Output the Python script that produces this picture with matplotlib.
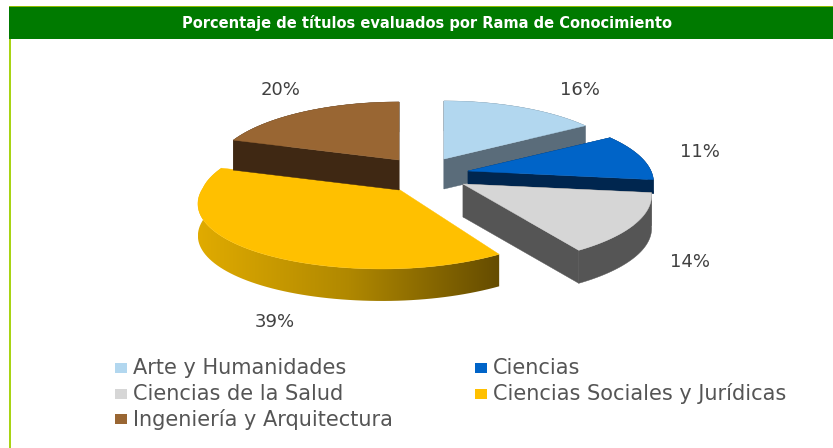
import numpy as np
import matplotlib
matplotlib.use('Agg')
import matplotlib.pyplot as plt
from matplotlib.patches import Polygon, Rectangle

title = "Porcentaje de títulos evaluados por Rama de Conocimiento"
categories = ["Arte y Humanidades", "Ciencias", "Ciencias de la Salud",
              "Ciencias Sociales y Jurídicas", "Ingeniería y Arquitectura"]
values = [16, 11, 14, 39, 20]

top_colors = ["#b2d7ef", "#0064c8", "#d6d6d6", "#ffc000", "#996633"]
side_colors = ["#5a6c7a", "#00264f", "#555555", None, "#3f2813"]

# apex of each exploded slice (px), x radius right/left, shear
apex_x = [444, 468, 463, 397, 399]
apex_y = [159, 171, 184, 188, 160]
rx_right = [182, 183, 186, 183, 183]
rx_left = [182, 183, 186, 194, 183]
shear = [0, 0, 0, 12, 0]
depth = [30, 14, 33, 32, 30]
ry = 67.6
persp = 0.165

label_x = [580, 700, 690, 275, 281]
label_y = [90, 152, 262, 322, 90]
swatch_x = [115, 475, 115, 475, 115]
legend_y = [368, 368, 394, 394, 419]

fig = plt.figure(figsize=(8.33, 4.48), dpi=100, facecolor='white')
ax = fig.add_axes([0, 0, 1, 1])
ax.set_xlim(0, 833)
ax.set_ylim(448, 0)
ax.axis('off')

# header band and frame
ax.add_patch(Rectangle((9, 7), 824, 32, color='#007a00', lw=0))
ax.add_patch(Rectangle((9, 6), 824, 1.5, color='#8fbc00', lw=0))
ax.add_patch(Rectangle((9, 39), 2, 409, color='#a8d414', lw=0))
ax.text(427, 23, title, color='white', fontsize=10.5, fontweight='bold',
        family='DejaVu Sans', ha='center', va='center')


def slice_arc(i, start, end):
    t = np.radians(np.linspace(start, end, 80))
    X, Y = np.sin(t), np.cos(t)
    d = 1 + persp * Y
    rx = np.where(X >= 0, rx_right[i], rx_left[i])
    return apex_x[i] + (rx * X + shear[i] * np.minimum(Y, 0)) / d, apex_y[i] - ry * Y / d


starts = np.cumsum([0] + values[:-1]) * 3.6
ends = np.cumsum(values) * 3.6

# back to front
for i in [4, 0, 1, 2, 3]:
    x, y = slice_arc(i, starts[i], ends[i])
    outer = np.column_stack([np.r_[x, x[::-1]], np.r_[y, y[::-1] + depth[i]]])
    ax0, ay0 = apex_x[i], apex_y[i]
    faces = [outer,
             [(ax0, ay0), (x[0], y[0]), (x[0], y[0] + depth[i]), (ax0, ay0 + depth[i])],
             [(ax0, ay0), (x[-1], y[-1]), (x[-1], y[-1] + depth[i]), (ax0, ay0 + depth[i])]]
    if side_colors[i] is None:
        # the big slice has a left-to-right shaded wall
        grad = np.linspace(0, 1, 256).reshape(1, -1)
        cmap = matplotlib.colors.LinearSegmentedColormap.from_list('wall', ['#e0ab00', '#b08800', '#654c00'])
        im = ax.imshow(grad, cmap=cmap, extent=(x.min(), x.max(), y.max() + depth[i] + 1, y.min()),
                       aspect='auto', zorder=1 + i)
        im.set_clip_path(Polygon(outer, transform=ax.transData))
    else:
        for f in faces:
            ax.add_patch(Polygon(f, closed=True, fc=side_colors[i], ec=side_colors[i], lw=0.3, zorder=1 + i))
    top = np.column_stack([np.r_[ax0, x], np.r_[ay0, y]])
    ax.add_patch(Polygon(top, closed=True, fc=top_colors[i], ec=top_colors[i], lw=0.3, zorder=1 + i))

ax.set_xlim(0, 833)
ax.set_ylim(448, 0)

for i, v in enumerate(values):
    ax.text(label_x[i], label_y[i], f"{v}%", fontsize=13, color='#404040',
            family='DejaVu Sans', ha='center', va='center', zorder=20)

for i, name in enumerate(categories):
    ax.add_patch(Rectangle((swatch_x[i], legend_y[i] - 5), 12, 10, color=top_colors[i], lw=0))
    ax.text(swatch_x[i] + 18, legend_y[i], name, fontsize=15, color='#555555',
            family='DejaVu Sans', ha='left', va='center')

fig.savefig('out.png', dpi=100)
